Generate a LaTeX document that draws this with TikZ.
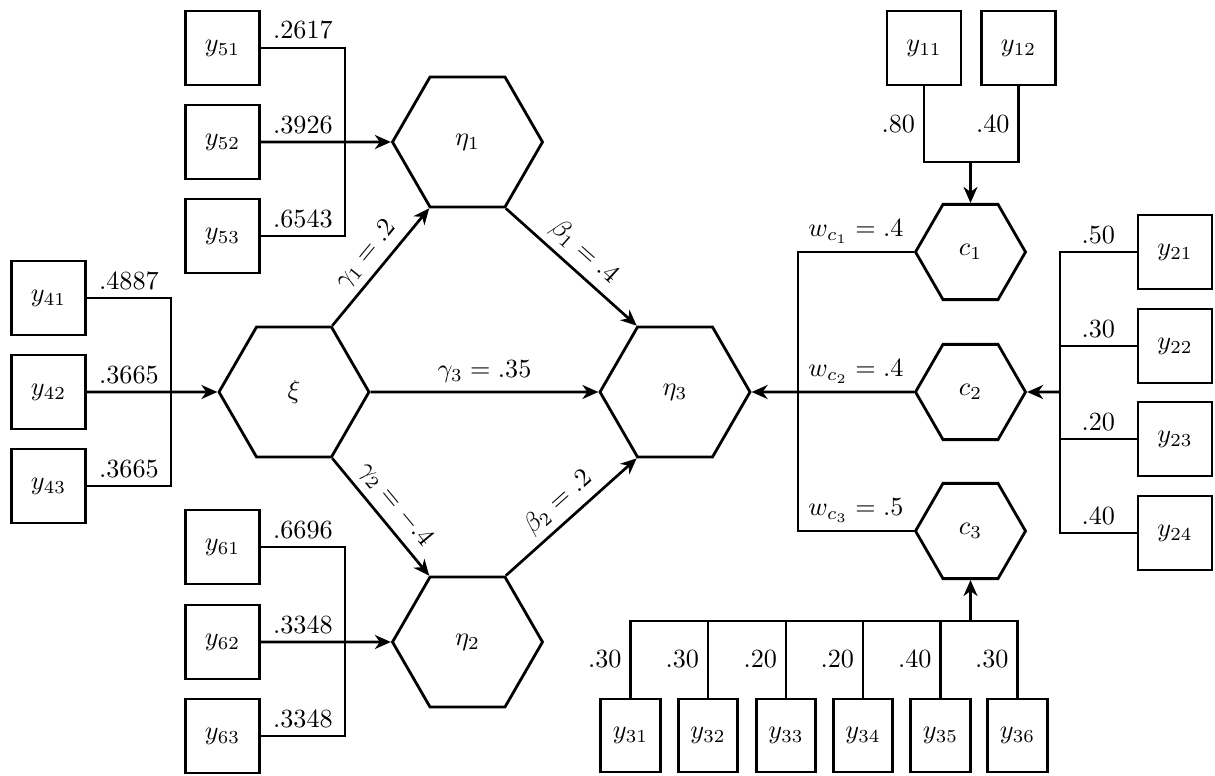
\documentclass[tikz,border=0pt]{standalone}
\usetikzlibrary{shapes.geometric,arrows.meta}
\newcommand{\tx}[1]{\scalebox{2.62}{$#1$}}
\tikzset{
  obs/.style={draw, line width=2.8pt, minimum width=74pt, minimum height=74pt, inner sep=0pt},
  obsn/.style={draw, line width=2.8pt, minimum width=59.5pt, minimum height=73pt, inner sep=0pt},
  lat/.style={draw, line width=2.8pt, regular polygon, regular polygon sides=6, minimum size=150pt, inner sep=0pt},
  comp/.style={draw, line width=2.8pt, regular polygon, regular polygon sides=6, minimum size=110pt, inner sep=0pt},
  conn/.style={line width=2.7pt},
  arr/.style={line width=2.7pt, -{Stealth[length=16pt,width=14pt,inset=5pt]}},
  lab/.style={inner sep=9pt, outer sep=0pt},
  slab/.style={inner sep=8pt, outer sep=0pt, above, sloped},
}
\begin{document}
\begin{tikzpicture}[x=1pt,y=1pt]
\useasboundingbox (0,0) rectangle (1215,-776);
% latent hexagons
\node[lat] (xi) at (294,-392) {\tx{\xi}};
\node[lat] (eta1) at (467.5,-142) {\tx{\eta_1}};
\node[lat] (eta2) at (467.5,-642) {\tx{\eta_2}};
\node[lat] (eta3) at (675,-392) {\tx{\eta_3}};
\node[comp] (c1) at (970.5,-252) {\tx{c_1}};
\node[comp] (c2) at (970.5,-392) {\tx{c_2}};
\node[comp] (c3) at (970.5,-531) {\tx{c_3}};
% indicator boxes
\node[obs] (y51) at (222.5,-48) {\tx{y_{51}}};
\node[obs] (y52) at (222.5,-142) {\tx{y_{52}}};
\node[obs] (y53) at (222.5,-236) {\tx{y_{53}}};
\node[obs] (y61) at (222.5,-547) {\tx{y_{61}}};
\node[obs] (y62) at (222.5,-642) {\tx{y_{62}}};
\node[obs] (y63) at (222.5,-736) {\tx{y_{63}}};
\node[obs] (y41) at (48.5,-298) {\tx{y_{41}}};
\node[obs] (y42) at (48.5,-392) {\tx{y_{42}}};
\node[obs] (y43) at (48.5,-486) {\tx{y_{43}}};
\node[obs] (y11) at (924,-48) {\tx{y_{11}}};
\node[obs] (y12) at (1018.5,-48) {\tx{y_{12}}};
\node[obs] (y21) at (1175,-252) {\tx{y_{21}}};
\node[obs] (y22) at (1175,-346) {\tx{y_{22}}};
\node[obs] (y23) at (1175,-439) {\tx{y_{23}}};
\node[obs] (y24) at (1175,-533) {\tx{y_{24}}};
\node[obsn] (y31) at (630.5,-735.5) {\tx{y_{31}}};
\node[obsn] (y32) at (708,-735.5) {\tx{y_{32}}};
\node[obsn] (y33) at (786,-735.5) {\tx{y_{33}}};
\node[obsn] (y34) at (863,-735.5) {\tx{y_{34}}};
\node[obsn] (y35) at (940.5,-735.5) {\tx{y_{35}}};
\node[obsn] (y36) at (1017.5,-735.5) {\tx{y_{36}}};
% junctions
\coordinate (j4) at (171,-392);
\coordinate (j5) at (345,-142);
\coordinate (j6) at (345,-642);
\coordinate (j1) at (970.5,-162);
\coordinate (j2) at (1060,-392);
\coordinate (j3) at (970.5,-621);
\coordinate (jw) at (798,-392);
% xi indicators
\draw[conn] (y41.east) -| (j4) |- (y43.east);
\draw[arr] (y42.east) -- (xi.west);
\path (y41.east) -- node[lab,above] {\tx{.4887}} (y41.east -| j4);
\path (y42.east) -- node[lab,above] {\tx{.3665}} (y42.east -| j4);
\path (y43.east) -- node[lab,above] {\tx{.3665}} (y43.east -| j4);
% eta1 indicators
\draw[conn] (y51.east) -| (j5) |- (y53.east);
\draw[arr] (y52.east) -- (eta1.west);
\path (y51.east) -- node[lab,above] {\tx{.2617}} (y51.east -| j5);
\path (y52.east) -- node[lab,above] {\tx{.3926}} (y52.east -| j5);
\path (y53.east) -- node[lab,above] {\tx{.6543}} (y53.east -| j5);
% eta2 indicators
\draw[conn] (y61.east) -| (j6) |- (y63.east);
\draw[arr] (y62.east) -- (eta2.west);
\path (y61.east) -- node[lab,above] {\tx{.6696}} (y61.east -| j6);
\path (y62.east) -- node[lab,above] {\tx{.3348}} (y62.east -| j6);
\path (y63.east) -- node[lab,above] {\tx{.3348}} (y63.east -| j6);
% structural paths
\draw[arr] (xi.60) -- node[slab] {\tx{\gamma_1 = .2}} (eta1.240);
\draw[arr] (xi.-60) -- node[slab] {\tx{\gamma_2 = -.4}} (eta2.120);
\draw[arr] (xi.east) -- node[lab,above] {\tx{\gamma_3 = .35}} (eta3.west);
\draw[arr] (eta1.-60) -- node[slab] {\tx{\beta_1 = .4}} (eta3.120);
\draw[arr] (eta2.60) -- node[slab] {\tx{\beta_2 = .2}} (eta3.240);
% c1 indicators
\draw[conn] (y11.south) |- (j1) -| (y12.south);
\draw[arr] (j1) -- (c1.north);
\path (y11.south) -- node[lab,left] {\tx{.80}} (y11.south |- j1);
\path (y12.south) -- node[lab,left] {\tx{.40}} (y12.south |- j1);
% c2 indicators
\draw[conn] (y21.west) -| (j2) |- (y24.west);
\draw[conn] (y22.west) -- (y22.west -| j2);
\draw[conn] (y23.west) -- (y23.west -| j2);
\draw[arr] (j2) -- (c2.east);
\path (y21.west -| j2) -- node[lab,above] {\tx{.50}} (y21.west);
\path (y22.west -| j2) -- node[lab,above] {\tx{.30}} (y22.west);
\path (y23.west -| j2) -- node[lab,above] {\tx{.20}} (y23.west);
\path (y24.west -| j2) -- node[lab,above] {\tx{.40}} (y24.west);
% c3 indicators
\draw[conn] (y31.north) |- (y36.north |- j3) -- (y36.north);
\draw[conn] (y32.north) -- (y32.north |- j3);
\draw[conn] (y33.north) -- (y33.north |- j3);
\draw[conn] (y34.north) -- (y34.north |- j3);
\draw[conn] (y35.north) -- (y35.north |- j3);
\draw[arr] (j3) -- (c3.south);
\path (y31.north) -- node[lab,left] {\tx{.30}} (y31.north |- j3);
\path (y32.north) -- node[lab,left] {\tx{.30}} (y32.north |- j3);
\path (y33.north) -- node[lab,left] {\tx{.20}} (y33.north |- j3);
\path (y34.north) -- node[lab,left] {\tx{.20}} (y34.north |- j3);
\path (y35.north) -- node[lab,left] {\tx{.40}} (y35.north |- j3);
\path (y36.north) -- node[lab,left] {\tx{.30}} (y36.north |- j3);
% composites to eta3
\draw[conn] (c1.west) -| (jw) |- (c3.west);
\draw[arr] (c2.west) -- (eta3.east);
\path (c1.west -| jw) -- node[lab,above] {\tx{w_{c_1} = .4}} (c1.west);
\path (c2.west -| jw) -- node[lab,above] {\tx{w_{c_2} = .4}} (c2.west);
\path (c3.west -| jw) -- node[lab,above] {\tx{w_{c_3} = .5}} (c3.west);
\end{tikzpicture}
\end{document}
